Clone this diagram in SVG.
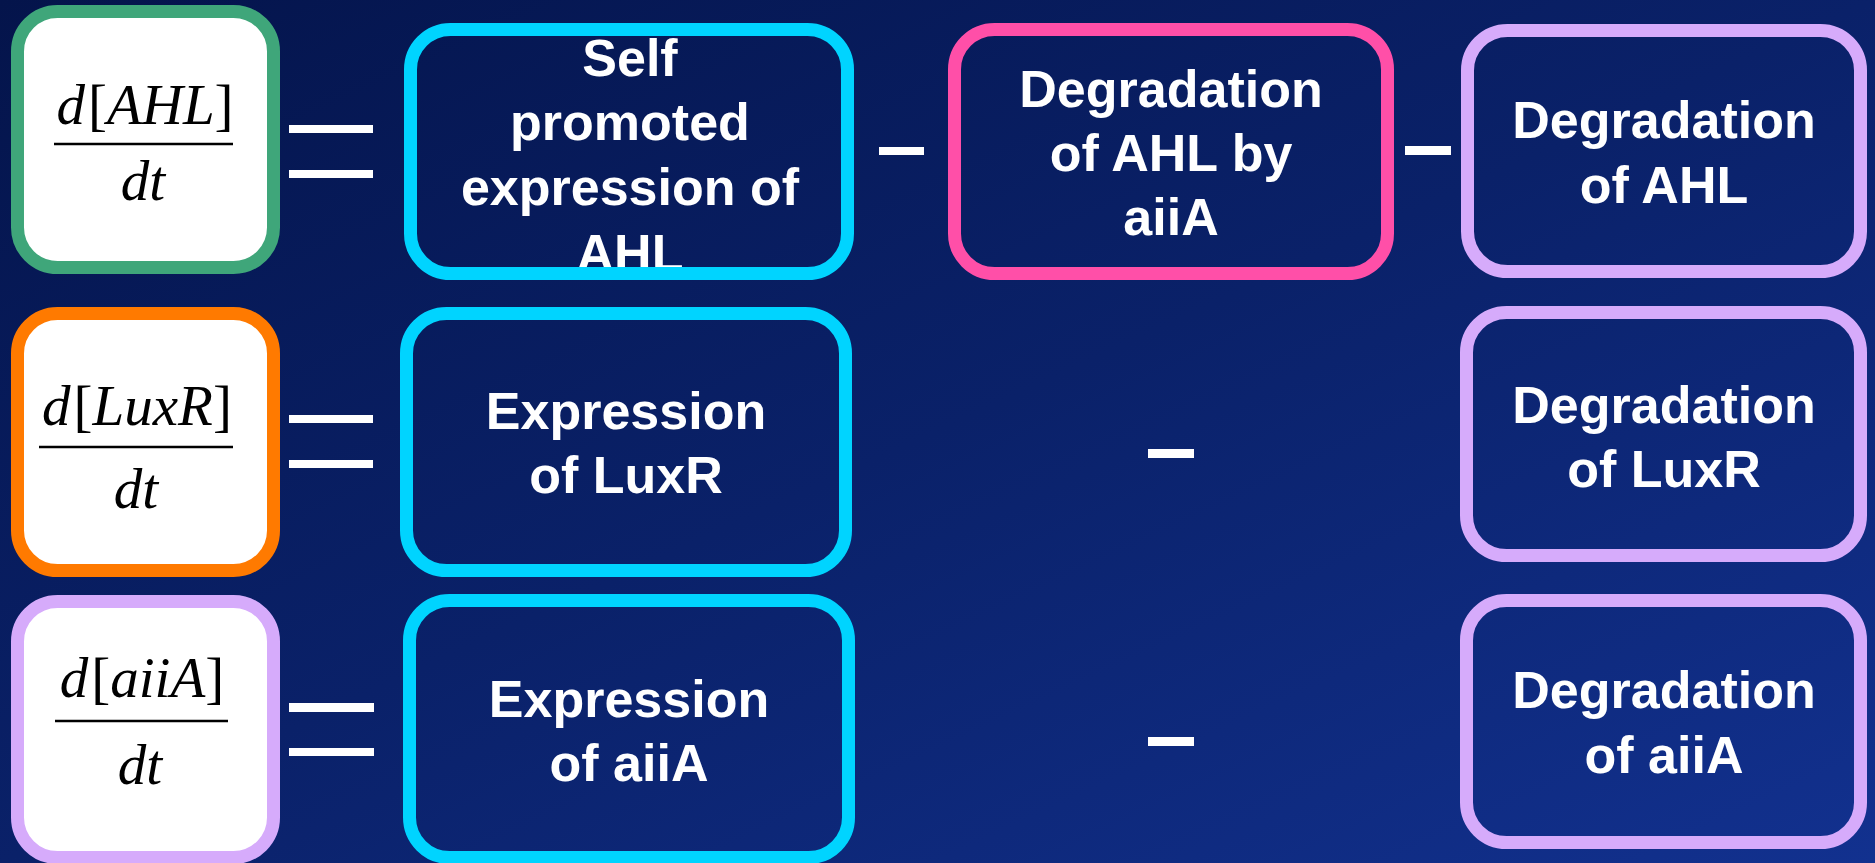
<svg xmlns="http://www.w3.org/2000/svg" width="1875" height="863" viewBox="0 0 1875 863">
  <defs>
    <linearGradient id="bg" x1="0" y1="0" x2="1" y2="1">
      <stop offset="0" stop-color="#04144b"/>
      <stop offset="0.5" stop-color="#0a2169"/>
      <stop offset="1" stop-color="#12318f"/>
    </linearGradient>
  </defs>
  <style>
    .box { fill: none; stroke-width: 13; }
    .lhs { fill: #ffffff; stroke-width: 13; }
    .lbl { font-family: "Liberation Sans", Arial, sans-serif; font-weight: bold; font-size: 52px; fill: #ffffff; text-anchor: middle; }
    .math { font-family: "Liberation Serif", "Times New Roman", serif; font-style: italic; font-size: 57px; fill: #000000; text-anchor: middle; }
    .br { font-style: normal; }
    .frac { stroke: #000000; stroke-width: 2.5; }
    .op { fill: #ffffff; }
    .cyan { stroke: #00d4ff; }
    .pink { stroke: #ff4fa8; }
    .lav { stroke: #d6abfb; }
    .green { stroke: #3fa67a; }
    .orange { stroke: #ff7a00; }
  </style>

  <rect x="0" y="0" width="1875" height="863" fill="url(#bg)"/>

  <!-- left-hand derivatives -->
  <g id="dAHL">
    <rect class="lhs green" x="17.5" y="11.5" width="256" height="256" rx="40"/>
    <text class="math" x="145" y="124">d<tspan class="br" dx="3">[</tspan>AHL<tspan class="br">]</tspan></text>
    <line class="frac" x1="54" y1="144" x2="233" y2="144"/>
    <text class="math" x="143" y="200">dt</text>
  </g>
  <g id="dLuxR">
    <rect class="lhs orange" x="17.5" y="313.5" width="256" height="257" rx="40"/>
    <text class="math" x="137" y="425">d<tspan class="br" dx="3">[</tspan>LuxR<tspan class="br">]</tspan></text>
    <line class="frac" x1="39" y1="447" x2="233" y2="447"/>
    <text class="math" x="136" y="508">dt</text>
  </g>
  <g id="daiiA">
    <rect class="lhs lav" x="17.5" y="601.5" width="256" height="256" rx="40"/>
    <text class="math" x="142" y="697">d<tspan class="br" dx="3">[</tspan>aiiA<tspan class="br">]</tspan></text>
    <line class="frac" x1="55" y1="721" x2="228" y2="721"/>
    <text class="math" x="140" y="784">dt</text>
  </g>

  <!-- production terms -->
  <g id="selfAHL">
    <text class="lbl" x="630" y="76">Self</text>
    <text class="lbl" x="630" y="140">promoted</text>
    <text class="lbl" x="630" y="205">expression of</text>
    <text class="lbl" x="630" y="271">AHL</text>
    <rect class="box cyan" x="410.5" y="29.5" width="437" height="244" rx="40"/>
  </g>
  <g id="exprLuxR">
    <rect class="box cyan" x="406.5" y="313.5" width="439" height="257" rx="40"/>
    <text class="lbl" x="626" y="429">Expression</text>
    <text class="lbl" x="626" y="493">of LuxR</text>
  </g>
  <g id="exprAiiA">
    <rect class="box cyan" x="409.5" y="600.5" width="439" height="257" rx="40"/>
    <text class="lbl" x="629" y="717">Expression</text>
    <text class="lbl" x="629" y="781">of aiiA</text>
  </g>

  <!-- degradation terms -->
  <g id="degAHLbyAiiA">
    <rect class="box pink" x="954.5" y="29.5" width="433" height="244" rx="40"/>
    <text class="lbl" x="1171" y="107">Degradation</text>
    <text class="lbl" x="1171" y="171">of AHL by</text>
    <text class="lbl" x="1171" y="235">aiiA</text>
  </g>
  <g id="degAHL">
    <rect class="box lav" x="1467.5" y="30.5" width="393" height="241" rx="40"/>
    <text class="lbl" x="1664" y="138">Degradation</text>
    <text class="lbl" x="1664" y="203">of AHL</text>
  </g>
  <g id="degLuxR">
    <rect class="box lav" x="1466.5" y="312.5" width="394" height="243" rx="40"/>
    <text class="lbl" x="1664" y="423">Degradation</text>
    <text class="lbl" x="1664" y="487">of LuxR</text>
  </g>
  <g id="degAiiA">
    <rect class="box lav" x="1466.5" y="600.5" width="394" height="242" rx="40"/>
    <text class="lbl" x="1664" y="708">Degradation</text>
    <text class="lbl" x="1664" y="773">of aiiA</text>
  </g>

  <!-- operators joining the terms -->
  <g id="operators">
    <rect class="op" x="289" y="125" width="84" height="8"/>
    <rect class="op" x="289" y="170" width="84" height="8"/>
    <rect class="op" x="289" y="415" width="84" height="8"/>
    <rect class="op" x="289" y="460" width="84" height="8"/>
    <rect class="op" x="289" y="703" width="85" height="9"/>
    <rect class="op" x="289" y="748" width="85" height="8"/>
    <rect class="op" x="879" y="147" width="45" height="8"/>
    <rect class="op" x="1405" y="146" width="46" height="9"/>
    <rect class="op" x="1148" y="449" width="46" height="9"/>
    <rect class="op" x="1148" y="737" width="46" height="9"/>
  </g>
</svg>
